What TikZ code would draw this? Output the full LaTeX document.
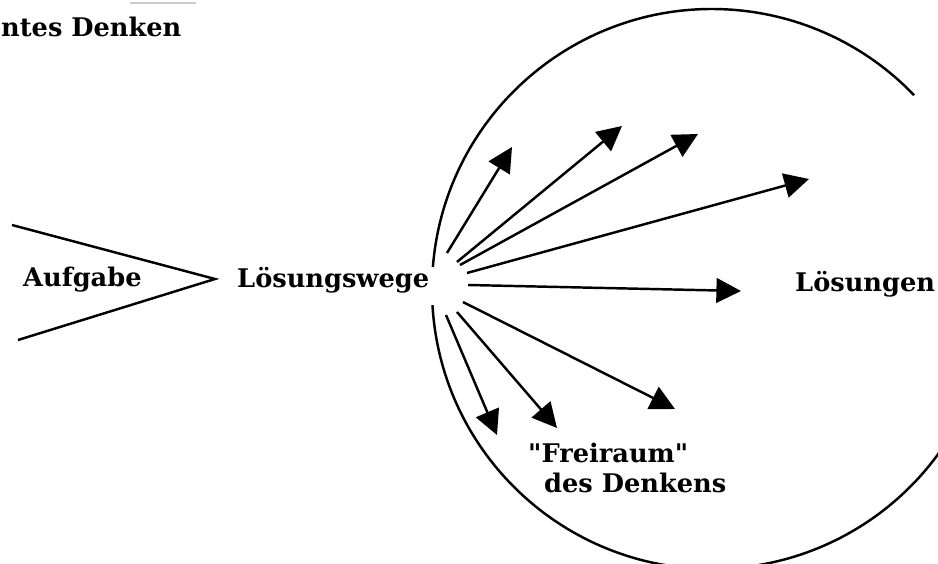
\documentclass[tikz,border=0pt]{standalone}
\usepackage{fontspec}
\setmainfont{DejaVu Serif}
\usetikzlibrary{arrows.meta}

\begin{document}
\begin{tikzpicture}[
          x=0.02cm, y=-0.02cm,
          lbl/.style={font=\fontsize{14.6}{17.6}\selectfont\bfseries, inner sep=0pt, anchor=base west},
          weg/.style={-{Triangle[length=14pt, width=14pt]}},
          line width=1.4pt
        ]
          \useasboundingbox (0,0) rectangle (938,564);
          \clip (0,0) rectangle (938,564);

          % Texte
          \node[lbl] (denken) at (0,37) {ntes Denken};
          \node[lbl] (aufgabe) at (22,287) {Aufgabe};
          \node[lbl] (wege) at (236,288) {Lösungswege};
          \node[lbl] (loesungen) at (794,292) {Lösungen};
          \node[lbl, align=left] (frei) at (527,493) {\textquotedbl Freiraum\textquotedbl\\\hspace*{0.32cm}des Denkens};

          % Aufgabe-Keil
          \coordinate (spitze) at (215,279);
          \coordinate (keiloben) at (12,225);
          \coordinate (keilunten) at (18,340);
          \draw (keiloben) -- (spitze) -- (keilunten);

          % Kreis (Freiraum)
          \coordinate (mitte) at (712,289);
          \draw ([shift={(mitte)}]184.5:280) arc[start angle=184.5, end angle=316.2, radius=280];
          \draw ([shift={(mitte)}]176.7:280) arc[start angle=176.7, end angle=20, radius=280];

          % Lösungswege
          \coordinate (s1) at (447,253); \coordinate (z1) at (512,147);
          \coordinate (s2) at (457,262); \coordinate (z2) at (622,126);
          \coordinate (s3) at (460,265); \coordinate (z3) at (698,134);
          \coordinate (s4) at (467,273); \coordinate (z4) at (809,179);
          \coordinate (s5) at (468,285); \coordinate (z5) at (741,291);
          \coordinate (s6) at (463,302); \coordinate (z6) at (675,409);
          \coordinate (s7) at (457,312); \coordinate (z7) at (557,428);
          \coordinate (s8) at (446,315); \coordinate (z8) at (497,435);
          \draw[weg] (s1) -- (z1);
          \draw[weg] (s2) -- (z2);
          \draw[weg] (s3) -- (z3);
          \draw[weg] (s4) -- (z4);
          \draw[weg] (s5) -- (z5);
          \draw[weg] (s6) -- (z6);
          \draw[weg] (s7) -- (z7);
          \draw[weg] (s8) -- (z8);

          % Strich oben
          \draw[gray!40, line width=0.6pt] (130,3) -- (196,3);
        \end{tikzpicture}
\end{document}
